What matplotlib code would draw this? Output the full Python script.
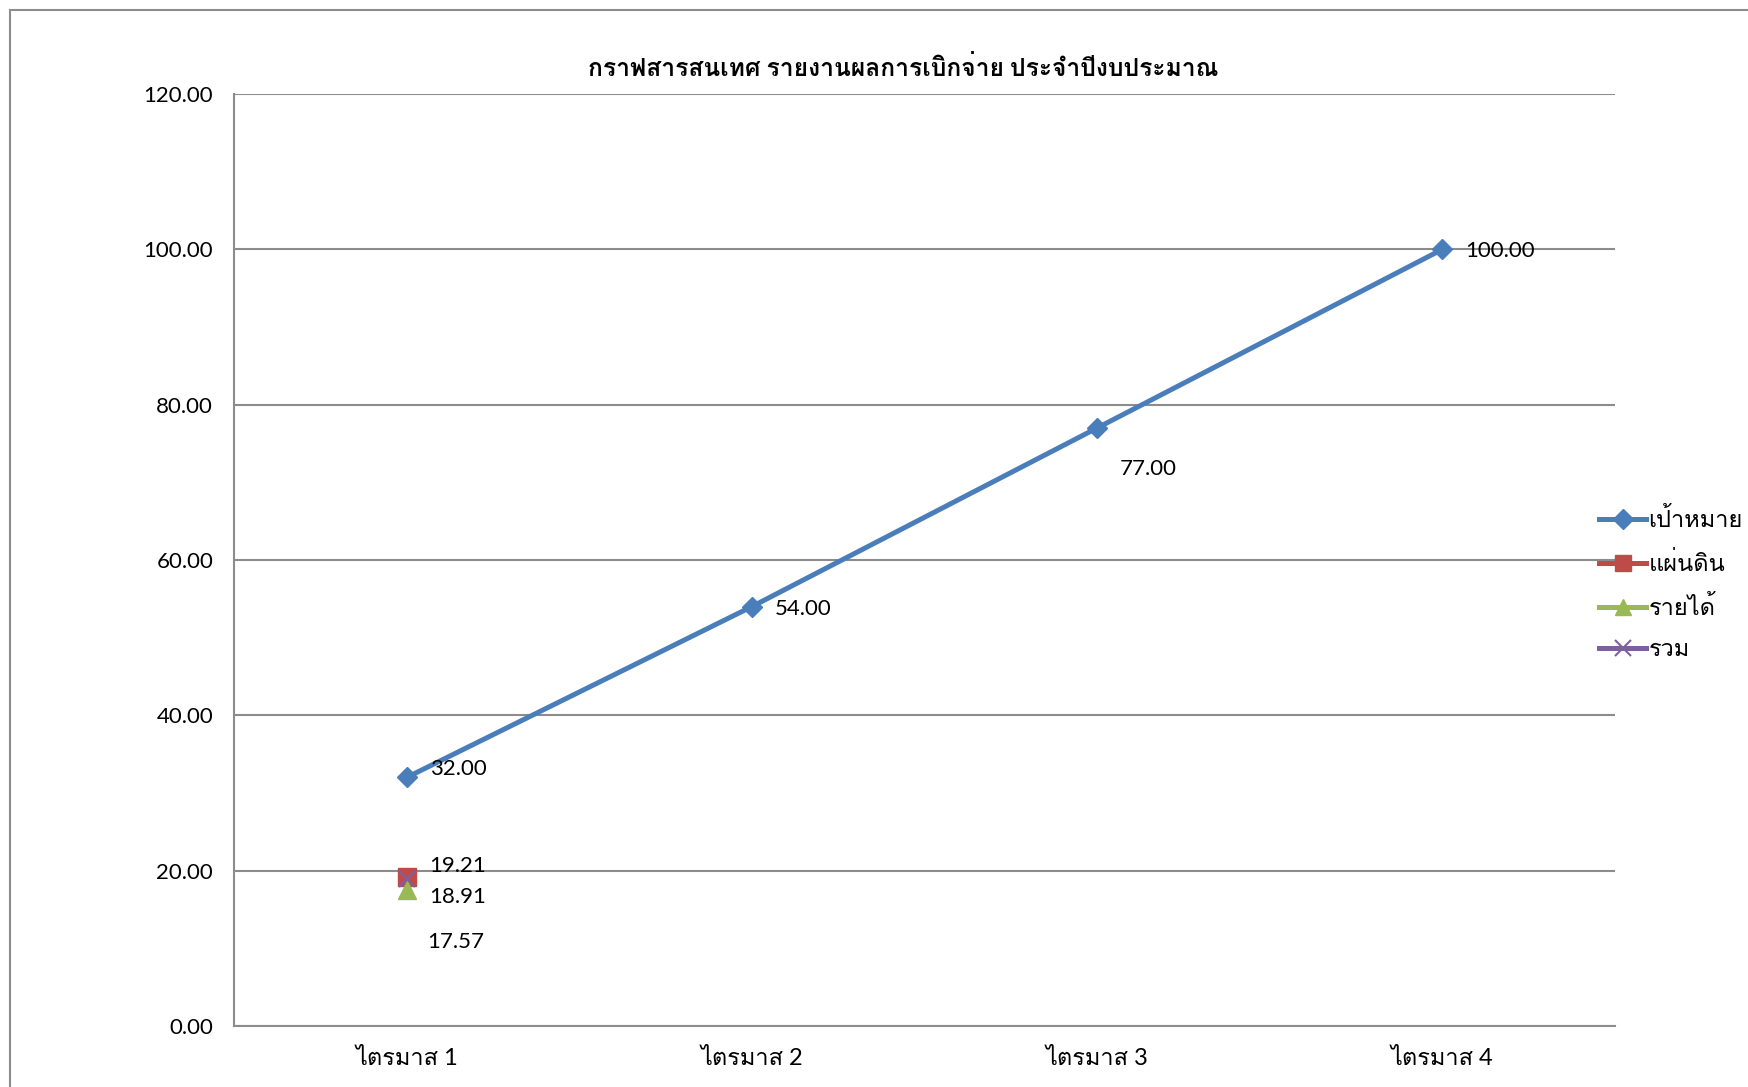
import matplotlib
matplotlib.use("Agg")
import matplotlib.pyplot as plt
from matplotlib.lines import Line2D
from matplotlib.patches import Rectangle

categories = ["ไตรมาส 1", "ไตรมาส 2", "ไตรมาส 3", "ไตรมาส 4"]
target = [32.00, 54.00, 77.00, 100.00]
land = [19.21]
income = [17.57]
total = [18.91]
yticks = [0, 20, 40, 60, 80, 100, 120]
title = "กราฟสารสนเทศ รายงานผลการเบิกจ่าย ประจำปีงบประมาณ"
series_names = ["เป้าหมาย", "แผ่นดิน", "รายได้", "รวม"]

plt.rcParams['font.family'] = ['Lato', 'Loma', 'DejaVu Sans']

fig = plt.figure(figsize=(17.48, 10.87), dpi=100)
fig.patches.append(Rectangle((10/1748, -0.1), 2.0, (1087-10)/1087 + 0.1, transform=fig.transFigure,
                             fill=False, edgecolor='#8c8c8c', linewidth=1.5))
ax = fig.add_axes([234/1748, 61/1087, (1615-234)/1748, (1026-94)/1087])

blue = '#4A7EBB'; red = '#BE4B48'; green = '#98B954'; purple = '#7D60A0'
x = list(range(len(categories)))
ax.plot(x, target, color=blue, lw=3.6, marker='D', ms=10, zorder=3)
ax.plot(x[:1], land, color=red, lw=3.6, marker='s', ms=13, zorder=3, linestyle='none')
ax.plot(x[:1], income, color=green, lw=3.6, marker='^', ms=13, zorder=4, linestyle='none')
ax.plot(x[:1], total, color=purple, lw=1.5, marker='x', ms=11, mew=1.5, zorder=5, linestyle='none')

ax.set_xlim(-0.5, 3.5)
ax.set_ylim(0, 120)
ax.set_yticks(yticks)
ax.set_yticklabels([f"{v:.2f}" for v in yticks])
ax.set_xticks(x)
ax.set_xticklabels(categories)
ax.tick_params(length=0, labelsize=16)
ax.tick_params(axis='x', pad=16)
ax.tick_params(axis='y', pad=15)
for lbl in ax.get_xticklabels():
    lbl.set_fontsize(17)
ax.grid(axis='y', color='#8c8c8c', lw=1.5)
ax.set_axisbelow(True)
for s in ['top', 'right']:
    ax.spines[s].set_visible(False)
for s in ['left', 'bottom']:
    ax.spines[s].set_color('#8c8c8c')
    ax.spines[s].set_linewidth(1.5)

fs = 16
offs = [(16.5, 6), (16.5, -1.5), (16.5, -29.5), (16.5, -1.5)]
for i, v in enumerate(target):
    ax.annotate(f"{v:.2f}", (x[i], v), xytext=offs[i], textcoords='offset points', fontsize=fs, va='center')
ax.annotate(f"{land[0]:.2f}", (0, land[0]), xytext=(16.5, 7.5), textcoords='offset points', fontsize=fs, va='center')
ax.annotate(f"{total[0]:.2f}", (0, total[0]), xytext=(16.5, -13), textcoords='offset points', fontsize=fs, va='center')
ax.annotate(f"{income[0]:.2f}", (0, income[0]), xytext=(15, -38), textcoords='offset points', fontsize=fs, va='center')

fig.text(903/1748, 1 - 67/1087, title, ha='center', va='center', fontsize=17.75, fontweight='bold')

handles = [
    Line2D([], [], color=blue, lw=3.6, marker='D', ms=10),
    Line2D([], [], color=red, lw=3.6, marker='s', ms=11),
    Line2D([], [], color=green, lw=3.6, marker='^', ms=11),
    Line2D([], [], color=purple, lw=3.6, marker='x', ms=11, mew=1.5),
]
leg = fig.legend(handles, series_names, loc='upper left', bbox_to_anchor=(1599/1748, 1 - 507/1087),
                 frameon=False, fontsize=17, handlelength=2.0, handletextpad=0.1, labelspacing=0.85,
                 borderaxespad=0, borderpad=0)

fig.savefig("out.png", dpi=100)
